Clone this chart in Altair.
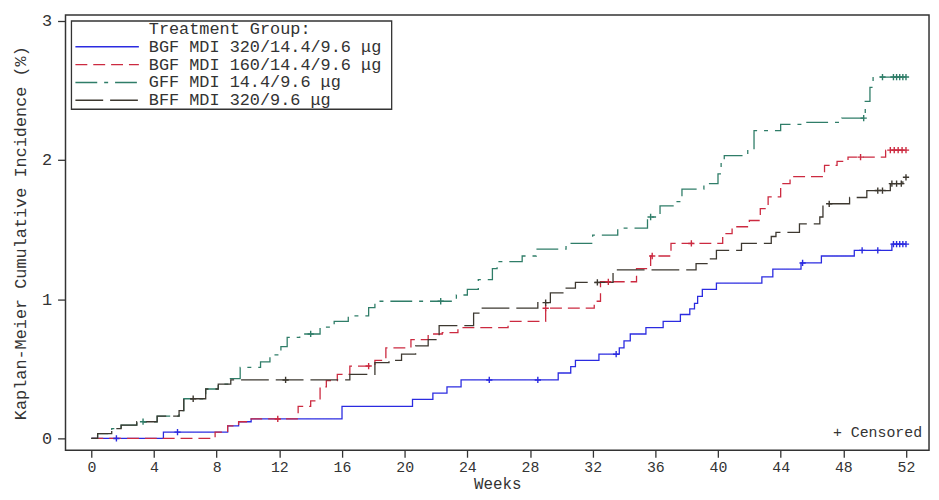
import altair as alt
import pandas as pd

# ---------------- data ----------------
groups = ["BGF MDI 320/14.4/9.6 μg", "BGF MDI 160/14.4/9.6 μg",
          "GFF MDI 14.4/9.6 μg", "BFF MDI 320/9.6 μg"]

blue_t = [0, 4.6, 8.7, 9.4, 10.2, 16.0, 20.5, 21.8, 22.7, 23.6, 29.8, 30.6, 30.9, 32.4,
          33.7, 34.0, 34.4, 35.4, 36.5, 37.6, 38.2, 38.5, 38.7, 39.0, 39.9, 42.8, 43.5,
          45.3, 46.6, 48.7, 51.1, 52.0]
blue_v = [0, 0.045, 0.09, 0.12, 0.14, 0.23, 0.28, 0.325, 0.37, 0.42, 0.47, 0.515, 0.56, 0.605,
          0.65, 0.70, 0.75, 0.795, 0.84, 0.89, 0.93, 0.97, 1.02, 1.07, 1.115, 1.16, 1.215,
          1.26, 1.31, 1.35, 1.395, 1.395]
blue_ct = [1.6, 5.5, 25.4, 28.5, 33.5, 45.4, 49.2, 50.2, 51.2, 51.4, 51.6, 51.8, 52.0]
blue_cv = [0, 0.045, 0.42, 0.42, 0.605, 1.26, 1.35, 1.35, 1.395, 1.395, 1.395, 1.395, 1.395]

red_t = [0, 7.9, 8.7, 9.4, 10.2, 13.2, 14.0, 14.6, 15.0, 15.7, 16.5, 18.1, 18.8, 20.4, 21.5,
         22.4, 23.4, 26.6, 29.0, 32.1, 32.5, 34.8, 35.7, 37.0, 40.3, 40.9, 42.0, 42.7, 43.2,
         44.0, 44.6, 46.8, 47.6, 48.3, 50.7, 52.0]
red_v = [0, 0.045, 0.09, 0.12, 0.14, 0.23, 0.27, 0.37, 0.415, 0.46, 0.52, 0.56, 0.65, 0.71, 0.75,
         0.76, 0.795, 0.84, 0.935, 0.985, 1.125, 1.22, 1.31, 1.40, 1.47, 1.52, 1.565, 1.65, 1.735,
         1.83, 1.88, 1.96, 1.99, 2.02, 2.07, 2.07]
red_ct = [11.9, 17.7, 29.0, 33.0, 35.8, 38.3, 49.1, 51.0, 51.25, 51.5, 51.75, 52.0]
red_cv = [0.14, 0.52, 0.935, 1.125, 1.31, 1.40, 2.02, 2.07, 2.07, 2.07, 2.07, 2.07]

green_t = [0, 0.4, 1.3, 1.9, 2.9, 4.2, 5.6, 5.9, 7.3, 8.1, 8.8, 9.5, 10.8, 11.4, 12.1, 12.5,
           13.3, 14.6, 15.5, 16.4, 17.7, 18.1, 23.3, 24.0, 24.7, 25.6, 25.9, 27.5, 28.4, 30.3,
           32.0, 33.6, 35.5, 36.3, 37.3, 37.7, 39.1, 40.0, 40.2, 40.4, 41.9, 42.3, 44.0, 45.5,
           47.9, 49.4, 49.7, 49.9, 52.0]
green_v = [0, 0.035, 0.07, 0.095, 0.12, 0.16, 0.2, 0.285, 0.355, 0.39, 0.43, 0.51, 0.55, 0.6,
           0.66, 0.725, 0.75, 0.8, 0.84, 0.88, 0.94, 0.985, 1.03, 1.07, 1.14, 1.22, 1.27, 1.31,
           1.36, 1.40, 1.46, 1.51, 1.59, 1.67, 1.70, 1.79, 1.83, 1.90, 1.98, 2.03, 2.075, 2.21,
           2.255, 2.27, 2.30, 2.42, 2.52, 2.595, 2.595]
green_ct = [3.3, 14.0, 22.3, 35.7, 49.3, 50.5, 51.2, 51.4, 51.6, 51.8, 52.0]
green_cv = [0.12, 0.75, 0.985, 1.59, 2.30, 2.595, 2.595, 2.595, 2.595, 2.595, 2.595]

black_t = [0, 0.4, 1.3, 1.9, 2.9, 4.2, 5.6, 5.9, 7.3, 8.1, 8.9, 16.5, 18.1, 19.0, 19.8, 20.7,
           21.5, 22.2, 24.4, 24.8, 28.5, 29.3, 30.1, 30.9, 33.3, 38.6, 39.3, 39.9, 41.5, 43.4,
           43.7, 45.2, 46.5, 46.7, 48.4, 49.5, 51.0, 51.8, 52.0]
black_v = [0, 0.035, 0.07, 0.095, 0.12, 0.16, 0.2, 0.285, 0.355, 0.39, 0.42, 0.46, 0.545, 0.56,
           0.605, 0.665, 0.71, 0.81, 0.9, 0.935, 0.975, 1.045, 1.08, 1.12, 1.21, 1.255, 1.29,
           1.35, 1.40, 1.45, 1.48, 1.54, 1.59, 1.685, 1.73, 1.78, 1.83, 1.875, 1.875]
black_ct = [6.5, 12.4, 29.0, 32.3, 47.1, 50.2, 50.5, 51.1, 51.4, 51.7, 52.0]
black_cv = [0.285, 0.42, 0.975, 1.12, 1.685, 1.78, 1.78, 1.83, 1.83, 1.83, 1.875]

x_ticks = list(range(0, 53, 2))
y_ticks = [0, 1, 2, 3]

# ---------------- styling ----------------
colors = ["#2b2be0", "#cc2a40", "#2f7d68", "#3d3830"]
dashes = [[1, 0], [12, 6], [22, 7, 4, 7], [28, 7]]
FONT = "Liberation Mono"
TXT = "#333333"

curves = [(blue_t, blue_v), (red_t, red_v), (green_t, green_v), (black_t, black_v)]
cens = [(blue_ct, blue_cv), (red_ct, red_cv), (green_ct, green_cv), (black_ct, black_cv)]

line_rows, cens_rows = [], []
for g, (ts, vs) in zip(groups, curves):
    for t, v in zip(ts, vs):
        line_rows.append({"group": g, "week": t, "inc": v})
for g, (ts, vs) in zip(groups, cens):
    for t, v in zip(ts, vs):
        cens_rows.append({"group": g, "week": t, "inc": v})
line_df = pd.DataFrame(line_rows)
cens_df = pd.DataFrame(cens_rows)

color_scale = alt.Scale(domain=groups, range=colors)
dash_scale = alt.Scale(domain=groups, range=dashes)

x_enc = alt.X("week:Q", scale=alt.Scale(domain=[-1.65, 53.47], nice=False, zero=False),
              axis=alt.Axis(values=x_ticks, title="Weeks", grid=False,
                            labelExpr="datum.value % 4 == 0 ? datum.label : ''",
                            tickSize=7, labelPadding=2, titlePadding=2,
                            labelFontSize=15, titleFontSize=16))
y_enc = alt.Y("inc:Q", scale=alt.Scale(domain=[-0.085, 3.04], nice=False, zero=False),
              axis=alt.Axis(values=y_ticks, format="d",
                            title="Kaplan-Meier Cumulative Incidence (%)",
                            grid=False, tickSize=8, labelPadding=6, titlePadding=12,
                            labelFontSize=17, titleFontSize=17))

lines = alt.Chart(line_df).mark_line(interpolate="step-after", strokeWidth=1.3).encode(
    x=x_enc, y=y_enc,
    color=alt.Color("group:N", scale=color_scale, legend=None),
    strokeDash=alt.StrokeDash("group:N", scale=dash_scale, legend=None),
    detail="group:N",
)

marks = alt.Chart(cens_df).mark_point(shape="M-1,0H1M0,-1V1", filled=False, size=40,
                                      strokeWidth=1.4, opacity=1).encode(
    x="week:Q", y="inc:Q",
    color=alt.Color("group:N", scale=color_scale, legend=None),
)

# ---------------- legend box (drawn inside the plot, top-left) ----------------
one = pd.DataFrame({"a": [0]})
layers = [lines, marks]
layers.append(alt.Chart(one).mark_rect(fill="white", stroke="#333333", strokeWidth=1.3).encode(
    x=alt.value(6), x2=alt.value(329), y=alt.value(6), y2=alt.value(95)))
layers.append(alt.Chart(one).mark_text(text="Treatment Group:", font=FONT, fontSize=17,
                                       color=TXT, align="left", baseline="middle").encode(
    x=alt.value(84), y=alt.value(14)))
for i, g in enumerate(groups):
    yy = 32 + 18 * i
    layers.append(alt.Chart(one).mark_rule(color=colors[i], strokeDash=dashes[i],
                                           strokeWidth=1.4).encode(
        x=alt.value(10), x2=alt.value(74), y=alt.value(yy)))
    layers.append(alt.Chart(one).mark_text(text=g, font=FONT, fontSize=17, color=TXT,
                                           align="left", baseline="middle").encode(
        x=alt.value(84), y=alt.value(yy)))
layers.append(alt.Chart(one).mark_text(text="+ Censored", font=FONT, fontSize=15, color=TXT,
                                       align="right", baseline="middle").encode(
    x=alt.value(864), y=alt.value(421)))

chart = alt.layer(*layers).properties(
    width=871, height=439,
    autosize=alt.AutoSizeParams(type="none"),
    padding={"left": 58, "top": 5, "right": 2, "bottom": 44},
).configure_view(
    stroke="#333333", strokeWidth=1.5
).configure_axis(
    labelFont=FONT, titleFont=FONT, labelColor=TXT, titleColor=TXT,
    titleFontWeight="normal", tickColor="#333333", tickWidth=1.3, domain=False,
)

chart.save("out.html", embed_options={"renderer": "svg", "actions": False})
